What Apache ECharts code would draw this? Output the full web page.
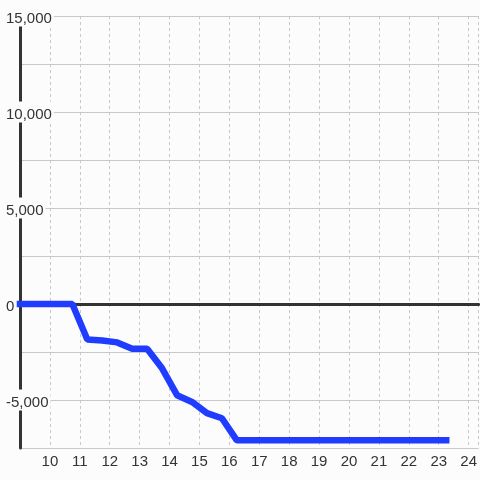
<!DOCTYPE html>
<html>
<head>
<meta charset="utf-8">
<script src="https://cdn.jsdelivr.net/npm/echarts@6/dist/echarts.min.js"></script>
<style>
	html, body {margin: 0; padding: 0; background: #fbfcfb;}
	#chart {width: 480px; height: 480px;}
</style>
</head>
<body>
<div id="chart"></div>
<script>
// x positions and values of the line
var xVals = [9, 10.75, 11.25, 11.75, 12.25, 12.75, 13.25, 13.75, 14.25, 14.75, 15.25, 15.75, 16.25, 17.25, 18.25, 19.25, 20.25, 21.25, 22.25, 23.25];
var yVals = [0, 0, -1850, -1900, -2000, -2330, -2330, -3350, -4750, -5100, -5680, -5950, -7100, -7100, -7100, -7100, -7100, -7100, -7100, -7100];
var yLabelled = [-5000, 0, 5000, 10000, 15000];

var lineData = new Array();
for (var ind=0; ind<xVals.length; ind++){
	lineData.push([xVals[ind], yVals[ind]]);
}

var chart = echarts.init(document.getElementById('chart'), null, {renderer: 'canvas'});
var bg = '#fbfcfb';
var txtFont = {fontFamily: 'Liberation Sans', fontSize: 15, color: '#333'};

option = {
	backgroundColor: bg,
	animation: false,
	grid: {left: 20, right: 0, top: 16, bottom: 32},
	xAxis: [{
		type: 'value',
		min: 9,
		max: 9 + 460/30,
		interval: 1,
		axisLine: {show: false, onZero: false},
		axisTick: {show: false},
		axisLabel: {
			margin: 6,
			showMinLabel: false,
			showMaxLabel: false,
			fontFamily: txtFont.fontFamily,
			fontSize: txtFont.fontSize,
			color: txtFont.color,
			formatter: function(v){ return v % 1 === 0 ? String(v) : ''; }
		},
		splitLine: {show: true, lineStyle: {color: '#c8c8c8', width: 1, type: [3, 3]}}
	},
	{
		// thick zero line
		type: 'value',
		position: 'bottom',
		min: 9,
		max: 9 + 460/30,
		z: 1.5,
		axisLine: {show: true, onZero: true, onZeroAxisIndex: 0, lineStyle: {color: '#333', width: 3}},
		axisTick: {show: false},
		axisLabel: {show: false},
		splitLine: {show: false}
	}],
	yAxis: {
		type: 'value',
		min: -7500,
		max: 15000,
		interval: 2500,
		z: 1,
		axisLine: {show: true, lineStyle: {color: '#333', width: 3}},
		axisTick: {show: false},
		axisLabel: {
			align: 'left',
			margin: 16,
			formatter: function(v){
				if (yLabelled.indexOf(v) < 0) return '';
				return '{a|' + v.toLocaleString('en-US') + '}';
			},
			rich: {
				a: {
					fontFamily: txtFont.fontFamily,
					fontSize: txtFont.fontSize,
					color: txtFont.color,
					backgroundColor: bg,
					lineHeight: 12,
					padding: [6, 2, 0, 2]
				}
			}
		},
		splitLine: {show: true, lineStyle: {color: '#c8c8c8', width: 1}}
	},
	series: [{
		type: 'line',
		z: 3,
		data: lineData,
		showSymbol: false,
		lineStyle: {color: '#1f3cff', width: 6.5, cap: 'square'}
	}]
};
chart.setOption(option);
</script>
</body>
</html>
